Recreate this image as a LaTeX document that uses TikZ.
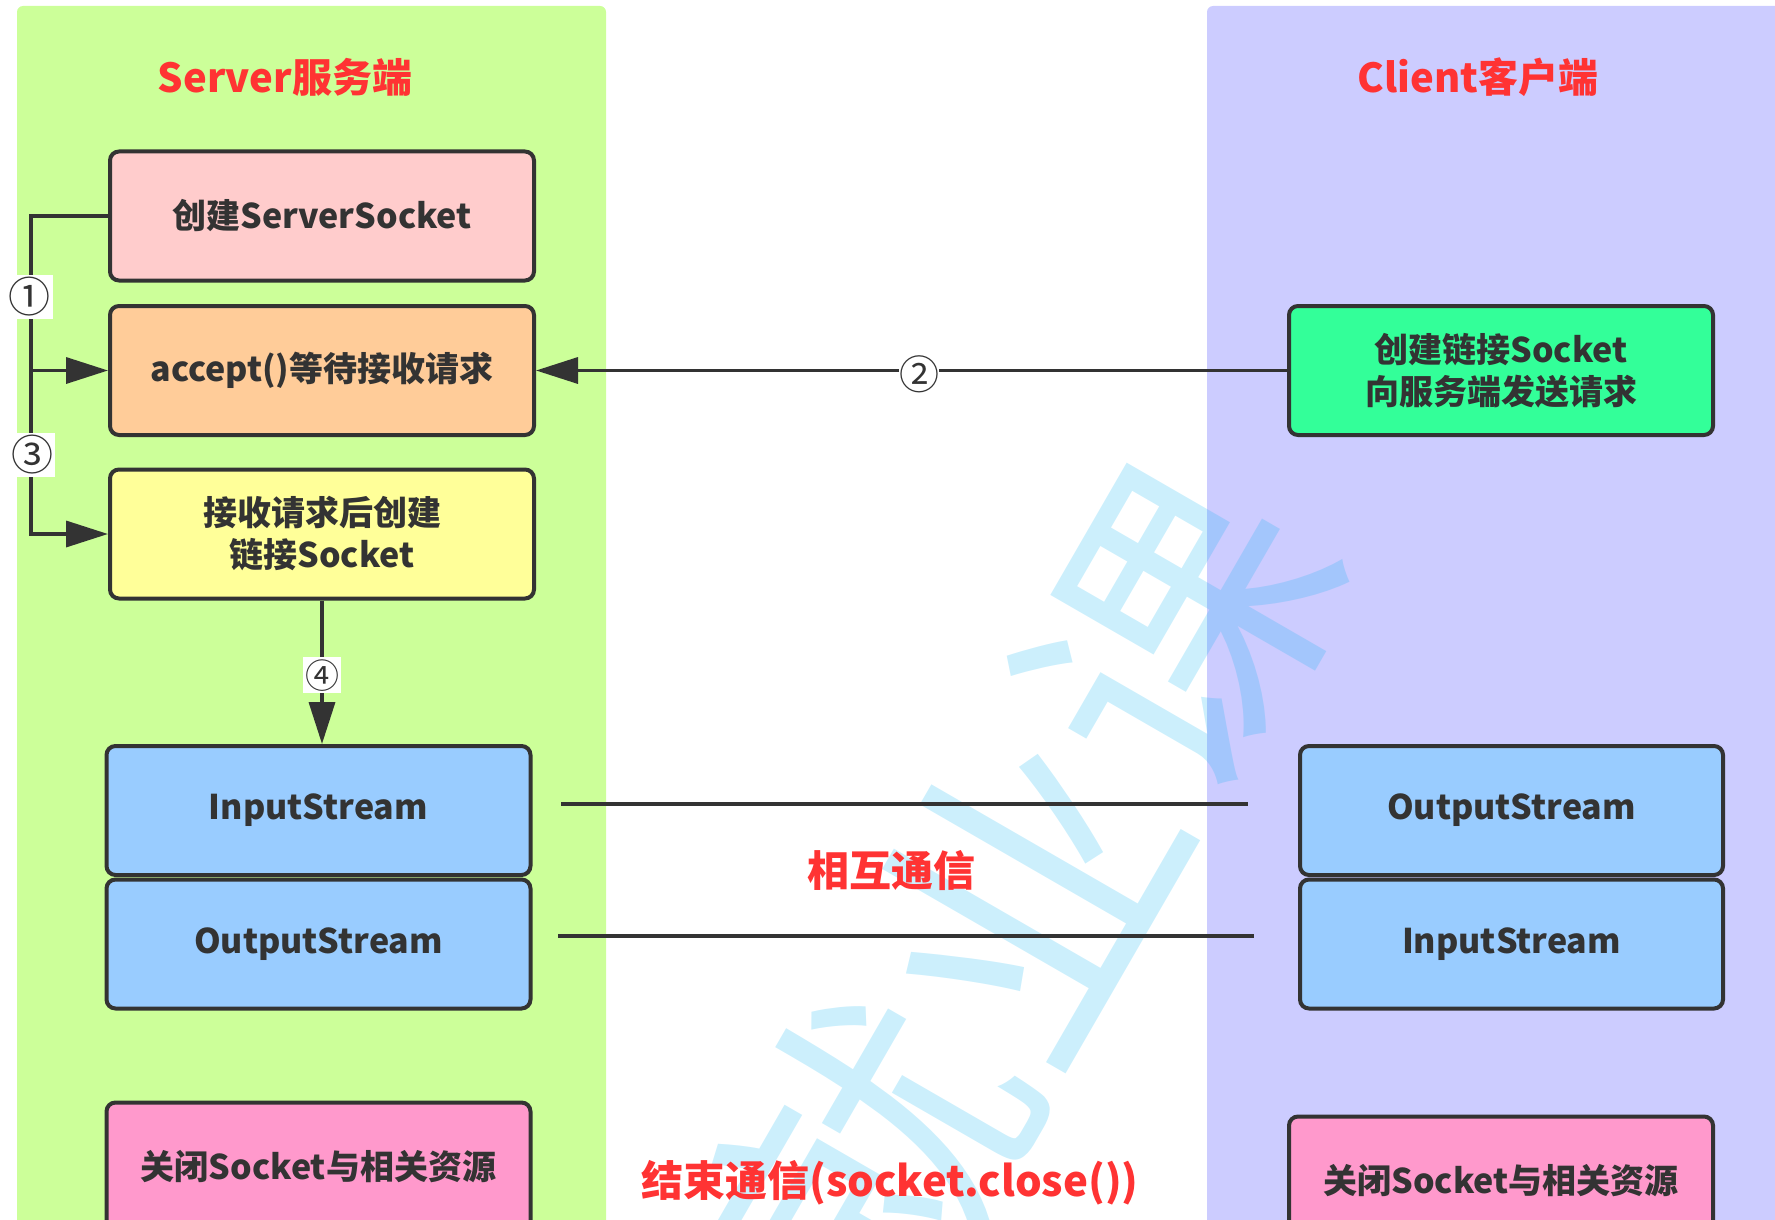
\documentclass[tikz,border=0pt]{standalone}
\usepackage{fontspec}
\setmainfont{Noto Sans CJK SC}
\usetikzlibrary{arrows.meta}

\definecolor{ink}{HTML}{333333}
\definecolor{titlered}{HTML}{FF3333}
\definecolor{panelgreen}{HTML}{CCFF99}
\definecolor{panelpurple}{HTML}{CCCCFF}
\definecolor{ssfill}{HTML}{FFCCCC}
\definecolor{accfill}{HTML}{FFCC99}
\definecolor{rcvfill}{HTML}{FFFF99}
\definecolor{clifill}{HTML}{33FF99}
\definecolor{streamfill}{HTML}{99CCFF}
\definecolor{closefill}{HTML}{FF99CC}
\definecolor{wmblue}{RGB}{0,175,240}

\newcommand\boxfont{\fontsize{34}{42}\selectfont\bfseries}
\newcommand\headfont{\fontsize{40}{48}\selectfont\bfseries}
\newcommand\notefont{\fontsize{42}{50}\selectfont\bfseries}

\tikzset{
  box/.style={draw=ink, line width=4pt, rounded corners=9pt,
    minimum width=424pt, minimum height=129pt, align=center,
    font=\boxfont, text=ink, inner sep=0pt},
  conn/.style={draw=ink, line width=3.5pt},
  tip/.style={-{Triangle[length=42pt,width=26pt]}},
  numlabel/.style={fill=white, inner sep=2pt, text=ink,
    font=\fontsize{42}{42}\selectfont},
  headline/.style={text=titlered, font=\headfont, inner sep=0pt},
  note/.style={text=titlered, font=\notefont, inner sep=0pt},
}

\begin{document}
\begin{tikzpicture}[x=1pt, y=-1pt]
\useasboundingbox (0,0) rectangle (1775,1220);

% server and client lanes
\fill[panelgreen, rounded corners=6pt] (17,6) rectangle (606,1250);
\fill[panelpurple, rounded corners=6pt] (1207,6) rectangle (1800,1250);

% watermark
\node[rotate=60, text=wmblue, text opacity=0.2, inner sep=0pt,
  font=\fontsize{305}{305}\selectfont] (wm) at (1025,895) {就业课};

% lane titles
\node[headline] (stitle) at (285,77) {Server服务端};
\node[headline] (ctitle) at (1478,77) {Client客户端};

% server steps
\node[box, fill=ssfill] (ss) at (322,216) {创建ServerSocket};
\node[box, fill=accfill] (acc) at (322,370.5) {accept()等待接收请求};
\node[box, fill=rcvfill] (rcv) at (322,534) {接收请求后创建\\链接Socket};
\node[box, fill=streamfill] (lin) at (318.5,810.5) {InputStream};
\node[box, fill=streamfill] (lout) at (318.5,944) {OutputStream};
\node[box, fill=closefill] (lclose) at (318.5,1167) {关闭Socket与相关资源};

% client steps
\node[box, fill=clifill] (cli) at (1501,370.5) {创建链接Socket\\向服务端发送请求};
\node[box, fill=streamfill, minimum width=423pt] (rout) at (1511.5,810.5) {OutputStream};
\node[box, fill=streamfill, minimum width=423pt] (rin) at (1511.5,944) {InputStream};
\node[box, fill=closefill] (rclose) at (1501,1181) {关闭Socket与相关资源};

% step connectors
\coordinate (bus) at (31,0);
\coordinate (j) at (acc.west -| bus);
\draw[conn, tip] (ss.west) -| (j) -- (acc.west);
\node[numlabel] (n1) at (30,297) {①};
\draw[conn, tip] (j) |- (rcv.west);
\node[numlabel] (n3) at (32,455) {③};
\draw[conn, tip] (cli.west) -- (acc.east)
  node[pos=0.49, numlabel, inner sep=0pt, font=\fontsize{40}{40}\selectfont, yshift=-4pt] (n2) {②};
\draw[conn, tip] (rcv.south) -- (rcv.south |- lin.north)
  node[pos=0.52, numlabel, font=\fontsize{34}{34}\selectfont] (n4) {④};

% stream links
\coordinate (s1a) at (561,804);
\coordinate (s1b) at (1248,804);
\coordinate (s2a) at (558,936);
\coordinate (s2b) at (1254,936);
\draw[conn] (s1a) -- (s1b);
\draw[conn] (s2a) -- (s2b);

\node[note] (talk) at (891,871) {相互通信};
\node[note] (bye) at (890,1183) {结束通信(socket.close())};
\end{tikzpicture}
\end{document}
